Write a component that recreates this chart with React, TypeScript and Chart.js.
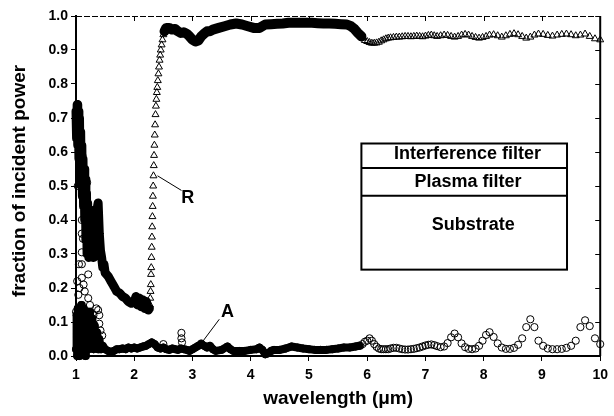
import React, { useEffect, useRef } from "react";
import { Chart, registerables } from "chart.js";

Chart.register(...registerables);

// ---- axes ----
const xTicks = [1, 2, 3, 4, 5, 6, 7, 8, 9, 10];
const yTicks = [0, 0.1, 0.2, 0.3, 0.4, 0.5, 0.6, 0.7, 0.8, 0.9, 1.0];
const xTitle = "wavelength (\u03bcm)";
const yTitle = "fraction of incident power";

// ---- R (open triangles) ----
const rLowWave = [1.00,1.01,1.02,1.03,1.04,1.05,1.06,1.07,1.08,1.09,1.10,1.11,1.12,1.13,1.14,1.15,1.16,1.17,1.18,1.19,1.20,1.22,1.24,1.26,1.28,1.30,1.32,1.34,1.36,1.38,1.40,1.42,1.44,1.46,1.48,1.50,1.55,1.60,1.65,1.70,1.75,1.80,1.85,1.90,1.95,2.00,2.03,2.06,2.09,2.12,2.15,2.18,2.21,2.24,2.26];
const rLowValue = [0.72,0.64,0.74,0.62,0.72,0.58,0.70,0.54,0.66,0.50,0.62,0.47,0.58,0.44,0.55,0.40,0.52,0.34,0.48,0.30,0.45,0.29,0.43,0.30,0.41,0.29,0.40,0.31,0.43,0.45,0.36,0.31,0.29,0.26,0.27,0.245,0.235,0.22,0.205,0.19,0.185,0.175,0.17,0.16,0.155,0.16,0.175,0.15,0.17,0.145,0.165,0.14,0.16,0.135,0.14];

const rRiseWave = [2.270,2.275,2.280,2.284,2.288,2.292,2.296,2.300,2.304,2.308,2.312,2.316,2.320,2.325,2.330,2.335,2.340,2.346,2.352,2.358,2.365,2.372,2.380,2.388,2.396,2.405,2.415,2.425,2.435,2.445,2.455,2.470,2.485,2.500,2.520];
const rRiseValue = [0.15,0.17,0.19,0.21,0.24,0.26,0.29,0.32,0.35,0.38,0.41,0.44,0.47,0.50,0.53,0.56,0.59,0.62,0.65,0.68,0.71,0.735,0.755,0.775,0.79,0.81,0.83,0.85,0.87,0.885,0.90,0.915,0.93,0.945,0.96];

const rHighWave = [2.52,2.55,2.60,2.65,2.70,2.75,2.80,2.85,2.90,2.95,3.00,3.05,3.10,3.15,3.20,3.25,3.30,3.35,3.45,3.55,3.65,3.75,3.85,3.95,4.05,4.15,4.25,4.35,4.45,4.55,4.65,4.75,4.85,4.95,5.05,5.15,5.25,5.35,5.45,5.55,5.65,5.72,5.78,5.84,5.90];
const rHighValue = [0.955,0.965,0.965,0.96,0.962,0.955,0.95,0.952,0.948,0.94,0.93,0.925,0.928,0.94,0.948,0.955,0.955,0.96,0.965,0.97,0.975,0.978,0.975,0.97,0.965,0.965,0.975,0.976,0.977,0.978,0.98,0.98,0.98,0.98,0.98,0.979,0.978,0.978,0.977,0.976,0.975,0.97,0.962,0.95,0.94];

// long-wavelength grid shared by R and A
const tailWave = [5.88,5.92,5.96,6.00,6.04,6.08,6.12,6.16,6.20,6.24,6.28,6.32,6.36,6.40,6.45,6.50,6.55,6.60,6.65,6.70,6.75,6.80,6.85,6.90,6.95,7.00,7.05,7.10,7.15,7.20,7.26,7.32,7.38,7.44,7.50,7.56,7.62,7.68,7.74,7.80,7.86,7.92,7.98,8.04,8.10,8.17,8.24,8.31,8.38,8.45,8.52,8.59,8.66,8.73,8.80,8.87,8.94,9.02,9.10,9.18,9.26,9.34,9.42,9.50,9.58,9.66,9.74,9.82,9.91,10.00];
const rTailValue = [0.945,0.935,0.928,0.925,0.922,0.92,0.92,0.921,0.923,0.927,0.93,0.933,0.935,0.936,0.937,0.938,0.938,0.939,0.94,0.94,0.939,0.94,0.941,0.94,0.939,0.941,0.943,0.944,0.942,0.94,0.942,0.944,0.943,0.94,0.938,0.94,0.944,0.946,0.944,0.94,0.937,0.935,0.937,0.94,0.944,0.945,0.942,0.938,0.942,0.946,0.948,0.945,0.94,0.935,0.938,0.944,0.947,0.946,0.943,0.941,0.944,0.946,0.947,0.945,0.942,0.944,0.947,0.94,0.933,0.93];

// ---- A (open circles) ----
const aBaseWave = [1.00,1.01,1.02,1.03,1.04,1.05,1.06,1.07,1.08,1.09,1.10,1.11,1.12,1.13,1.14,1.15,1.16,1.17,1.18,1.20,1.22,1.24,1.26,1.28,1.30,1.32,1.34,1.36,1.38,1.40,1.43,1.46,1.50,1.55,1.60,1.65,1.70,1.75,1.80,1.85,1.90,1.95,2.00,2.05,2.10,2.15,2.20,2.25,2.30,2.35,2.40,2.45,2.50,2.55,2.60,2.65,2.70,2.75,2.80,2.85,2.90,2.95,3.00,3.05,3.10,3.15,3.20,3.25,3.30,3.35,3.40,3.50,3.60,3.65,3.70,3.80,3.90,4.00,4.10,4.15,4.20,4.25,4.30,4.35,4.40,4.50,4.60,4.70,4.80,4.90,5.00,5.10,5.20,5.30,5.40,5.50,5.60,5.70,5.80,5.86];
const aBaseValue = [0.02,0.12,0.0,0.14,0.03,0.10,0.0,0.13,0.02,0.15,0.01,0.12,0.03,0.14,0.02,0.11,0.0,0.13,0.04,0.12,0.02,0.13,0.03,0.11,0.02,0.09,0.03,0.07,0.02,0.05,0.02,0.03,0.02,0.015,0.012,0.015,0.02,0.02,0.022,0.02,0.025,0.022,0.025,0.022,0.025,0.028,0.03,0.035,0.04,0.035,0.025,0.022,0.025,0.02,0.018,0.022,0.02,0.018,0.022,0.02,0.018,0.015,0.02,0.025,0.03,0.035,0.03,0.025,0.03,0.02,0.015,0.018,0.028,0.02,0.015,0.015,0.015,0.018,0.02,0.025,0.018,0.005,0.008,0.015,0.018,0.018,0.022,0.028,0.025,0.022,0.02,0.018,0.018,0.018,0.02,0.022,0.025,0.025,0.028,0.03];

const aScatterWave = [1.00,1.02,1.03,1.04,1.05,1.06,1.07,1.11,1.10,1.10,1.10,1.10,1.10,1.11,1.12,1.13,1.15,1.19,1.21,1.21,1.24,1.30,1.35,1.38,1.40,1.40,1.42,1.45,2.50,2.81,2.81,2.82,3.15];
const aScatterValue = [0.13,0.22,0.50,0.18,0.27,0.20,0.51,0.59,0.40,0.36,0.305,0.27,0.23,0.48,0.345,0.21,0.19,0.51,0.24,0.17,0.15,0.12,0.14,0.135,0.12,0.095,0.075,0.06,0.035,0.068,0.052,0.04,0.037];

const aTailValue = [0.03,0.035,0.042,0.045,0.052,0.045,0.035,0.027,0.022,0.02,0.02,0.02,0.02,0.022,0.024,0.024,0.022,0.02,0.019,0.019,0.02,0.021,0.023,0.025,0.028,0.031,0.033,0.034,0.032,0.029,0.026,0.028,0.038,0.055,0.066,0.055,0.037,0.026,0.021,0.02,0.022,0.03,0.045,0.062,0.07,0.056,0.037,0.025,0.021,0.021,0.024,0.033,0.052,0.085,0.108,0.085,0.045,0.03,0.022,0.02,0.02,0.021,0.024,0.03,0.045,0.085,0.105,0.088,0.052,0.035];

// ---- inset diagram (data coordinates) ----
const boxWave = [5.90, 9.43];
const boxLevels = [0.625, 0.553, 0.471, 0.254];
const layerLabels = ["Interference filter", "Plasma filter", "Substrate"];
const layerLabelWave = [7.72, 7.73, 7.82];
const layerLabelValue = [0.593, 0.511, 0.385];

// ---- annotations ----
const annotText = ["R", "A"];
const annotTextWave = [2.92, 3.6];
const annotTextValue = [0.466, 0.128];
const annotLineWave = [[2.40, 2.81], [3.46, 3.15]];
const annotLineValue = [[0.53, 0.487], [0.108, 0.037]];

const FONT = '"Liberation Sans", Arial, Helvetica, sans-serif';

function zip(xs: number[], ys: number[]) {
  return xs.map((x, i) => ({ x, y: ys[i] }));
}

export default function App() {
  const ref = useRef<HTMLCanvasElement | null>(null);

  useEffect(() => {
    document.body.style.margin = "0";
    const canvas = ref.current;
    if (!canvas) return;

    const tri = {
      pointStyle: "triangle" as const,
      pointRadius: 4,
      pointBorderWidth: 1,
      pointBorderColor: "#000",
      pointBackgroundColor: "rgba(0,0,0,0)",
      borderColor: "#000",
      backgroundColor: "rgba(0,0,0,0)",
      borderJoinStyle: "round",
      borderCapStyle: "round",
      clip: false as any,
    };
    const circ = {
      pointStyle: "circle" as const,
      pointRadius: 3.6,
      pointBorderWidth: 1,
      pointBorderColor: "#000",
      pointBackgroundColor: "rgba(0,0,0,0)",
      borderColor: "#000",
      backgroundColor: "rgba(0,0,0,0)",
      borderJoinStyle: "round",
      borderCapStyle: "round",
      clip: false as any,
    };

    const overlay = {
      id: "overlay",
      afterDraw(chart: any) {
        const { ctx, chartArea: a } = chart;
        const xs = chart.scales.x;
        const ys = chart.scales.y;
        const line = (x1: number, y1: number, x2: number, y2: number) => {
          ctx.beginPath();
          ctx.moveTo(x1, y1);
          ctx.lineTo(x2, y2);
          ctx.stroke();
        };
        ctx.save();
        ctx.strokeStyle = "#000";
        ctx.fillStyle = "#000";
        // top frame (thin, dashed look)
        ctx.lineWidth = 1;
        ctx.setLineDash([6, 2]);
        line(a.left, a.top + 0.5, a.right, a.top + 0.5);
        ctx.setLineDash([]);
        // right frame
        ctx.lineWidth = 2;
        line(a.right, a.top, a.right, a.bottom);
        // inward ticks
        ctx.lineWidth = 1;
        xTicks.forEach((t) => {
          const px = Math.round(xs.getPixelForValue(t)) + 0.5;
          line(px, a.top, px, a.top + 5);
        });
        yTicks.forEach((t) => {
          const py = Math.round(ys.getPixelForValue(t)) + 0.5;
          line(a.right, py, a.right - 5, py);
        });
        // inset diagram
        const bx1 = xs.getPixelForValue(boxWave[0]);
        const bx2 = xs.getPixelForValue(boxWave[1]);
        const levels = boxLevels.map((v) => ys.getPixelForValue(v));
        ctx.fillStyle = "#fff";
        ctx.fillRect(bx1, levels[0], bx2 - bx1, levels[3] - levels[0]);
        ctx.lineWidth = 2;
        ctx.strokeRect(bx1, levels[0], bx2 - bx1, levels[3] - levels[0]);
        line(bx1, levels[1], bx2, levels[1]);
        line(bx1, levels[2], bx2, levels[2]);
        ctx.fillStyle = "#000";
        ctx.font = `bold 18px ${FONT}`;
        ctx.textAlign = "center";
        ctx.textBaseline = "middle";
        layerLabels.forEach((s, i) => {
          ctx.fillText(s, xs.getPixelForValue(layerLabelWave[i]), ys.getPixelForValue(layerLabelValue[i]));
        });
        // annotations
        ctx.lineWidth = 1;
        annotText.forEach((s, i) => {
          ctx.fillText(s, xs.getPixelForValue(annotTextWave[i]), ys.getPixelForValue(annotTextValue[i]));
          line(
            xs.getPixelForValue(annotLineWave[i][0]), ys.getPixelForValue(annotLineValue[i][0]),
            xs.getPixelForValue(annotLineWave[i][1]), ys.getPixelForValue(annotLineValue[i][1])
          );
        });
        // axis titles
        ctx.font = `bold 19px ${FONT}`;
        ctx.fillText(xTitle, (a.left + a.right) / 2, 399);
        ctx.save();
        ctx.translate(20, 181);
        ctx.rotate(-Math.PI / 2);
        ctx.fillText(yTitle, 0, 0);
        ctx.restore();
        ctx.restore();
      },
    };

    const chart = new Chart(canvas, {
      type: "scatter",
      data: {
        datasets: [
          { ...tri, data: zip(rLowWave, rLowValue), showLine: true, borderWidth: 9 },
          { ...tri, data: zip(rRiseWave, rRiseValue), showLine: false },
          { ...tri, data: zip(rHighWave, rHighValue), showLine: true, borderWidth: 10 },
          { ...tri, data: zip(tailWave, rTailValue), showLine: false },
          { ...circ, data: zip(aBaseWave, aBaseValue), showLine: true, borderWidth: 8 },
          { ...circ, data: zip(aScatterWave, aScatterValue), showLine: false },
          { ...circ, data: zip(tailWave, aTailValue), showLine: false },
        ] as any,
      },
      options: {
        responsive: false,
        maintainAspectRatio: false,
        animation: false,
        events: [],
        layout: { padding: { top: 16, right: 12, left: 0, bottom: 0 } },
        plugins: { legend: { display: false }, tooltip: { enabled: false } },
        scales: {
          x: {
            type: "linear",
            min: 1,
            max: 10,
            afterFit: (s: any) => { s.height = 60; },
            afterBuildTicks: (s: any) => { s.ticks = xTicks.map((v) => ({ value: v })); },
            grid: { display: true, drawOnChartArea: false, drawTicks: true, tickLength: 5, color: "#000", lineWidth: 1 },
            border: { display: true, color: "#000", width: 2 },
            ticks: {
              color: "#000",
              padding: 6,
              maxRotation: 0,
              font: { family: FONT, size: 14, weight: "bold" },
              callback: (v: any) => String(v),
            },
          },
          y: {
            type: "linear",
            min: 0,
            max: 1,
            afterFit: (s: any) => { s.width = 76; },
            afterBuildTicks: (s: any) => { s.ticks = yTicks.map((v) => ({ value: v })); },
            grid: { display: true, drawOnChartArea: false, drawTicks: true, tickLength: 5, color: "#000", lineWidth: 1 },
            border: { display: true, color: "#000", width: 2 },
            ticks: {
              color: "#000",
              padding: 3,
              font: { family: FONT, size: 14, weight: "bold" },
              callback: (v: any) => Number(v).toFixed(1),
            },
          },
        },
      } as any,
      plugins: [overlay],
    });

    return () => chart.destroy();
  }, []);

  return (
    <div style={{ width: 614, height: 416, background: "#fff" }}>
      <canvas ref={ref} width={614} height={416} style={{ display: "block" }} />
    </div>
  );
}
